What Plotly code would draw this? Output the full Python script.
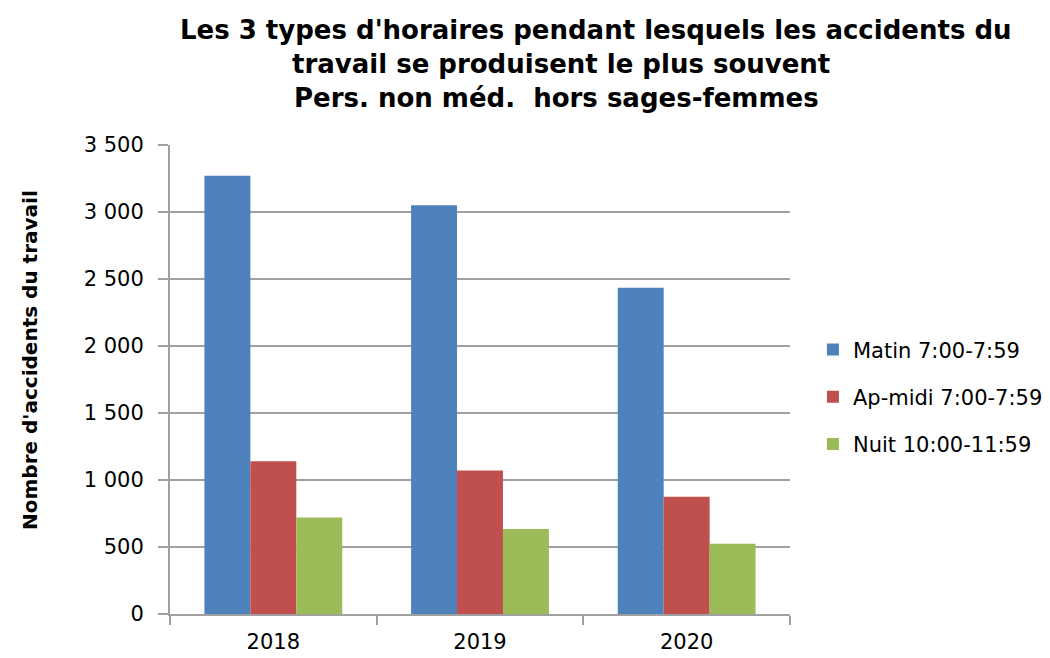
import plotly.graph_objects as go

years = ["2018", "2019", "2020"]
series_names = ["Matin 7:00-7:59", "Ap-midi 7:00-7:59", "Nuit 10:00-11:59"]
matin = [3270, 3050, 2435]
apmidi = [1140, 1070, 875]
nuit = [720, 635, 525]
colors = ["#4F81BD", "#C0504D", "#9BBB59"]
title_lines = [
    "Les 3 types d'horaires pendant lesquels les accidents du",
    "travail se produisent le plus souvent",
    "Pers. non méd.  hors sages-femmes",
]
y_title = "Nombre d'accidents du travail"

# page body has an 8px default margin: compensate
OFF = 8
L, T, PW, PH = 170 - OFF, 145 - OFF, 620, 469

fig = go.Figure()
for i, (name, vals) in enumerate(zip(series_names, [matin, apmidi, nuit])):
    fig.add_trace(go.Bar(
        x=years, y=vals, name=name,
        marker=dict(color=colors[i], line=dict(width=0)),
        legendgroup=f"g{i}",
    ))

tick_font = dict(family="DejaVu Sans", size=21, color="#000")

fig.update_layout(
    width=1050 - OFF, height=658 - OFF,
    margin=dict(l=L, r=1050 - OFF - L - PW, t=T, b=658 - OFF - T - PH, autoexpand=False),
    paper_bgcolor="white", plot_bgcolor="white",
    barmode="group", bargap=0.333, bargroupgap=0,
    separators=", ",
    font=tick_font,
    showlegend=True,
    legend=dict(x=1.037, xanchor="left", y=0.463, yanchor="middle",
                font=tick_font, tracegroupgap=17, bgcolor="rgba(0,0,0,0)"),
    xaxis=dict(
        type="category", showgrid=False, showline=True, linecolor="#A0A0A0", linewidth=2,
        ticks="outside", tickson="boundaries", ticklen=9, tickcolor="#A0A0A0", tickwidth=2,
        tickfont=tick_font, ticklabelstandoff=8, automargin=False,
    ),
    yaxis=dict(
        range=[0, 3500], dtick=500, tickformat=",d",
        showgrid=True, gridcolor="#A0A0A0", gridwidth=2,
        showline=True, linecolor="#A0A0A0", linewidth=2,
        ticks="outside", ticklen=10, tickcolor="#A0A0A0", tickwidth=2,
        tickfont=tick_font, ticklabelstandoff=10, zeroline=False, automargin=False,
    ),
)

ys = [1.245, 1.173, 1.100]
xs = [0.687, 0.631, 0.624]
for line, yy, xx in zip(title_lines, ys, xs):
    fig.add_annotation(text="<b>" + line + "</b>", xref="paper", yref="paper",
                       x=xx, y=yy, xanchor="center", yanchor="middle", showarrow=False,
                       font=dict(family="DejaVu Sans", size=26, color="#000"))

fig.add_annotation(text="<b>" + y_title + "</b>", xref="paper", yref="paper",
                   x=(30 - 170) / PW, y=(614 - 360) / PH, xanchor="center", yanchor="middle",
                   textangle=-90, showarrow=False,
                   font=dict(family="DejaVu Sans", size=20, color="#000"))

fig.write_html("out.html")
